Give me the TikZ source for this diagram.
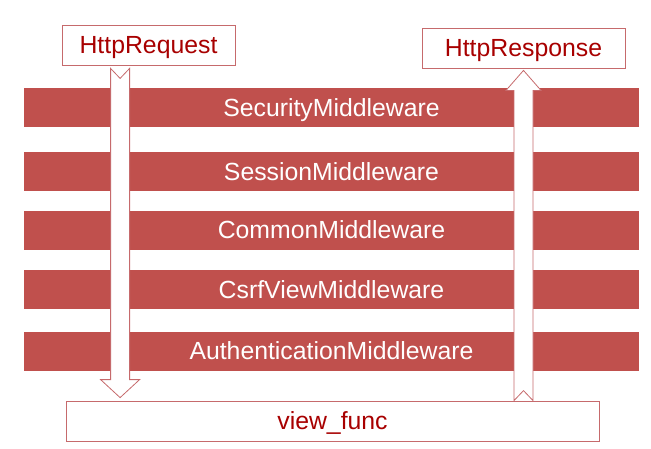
\documentclass[tikz,border=0pt]{standalone}
\usepackage{fontspec}
\setmainfont{Liberation Sans}
\usetikzlibrary{calc}
\definecolor{barred}{HTML}{C0504D}
\definecolor{txtred}{HTML}{A80000}
\definecolor{edgered}{HTML}{C66A6C}
\tikzset{
  bar/.style={rectangle, fill=barred, text=white, minimum width=615pt, minimum height=39pt, inner sep=0pt, text height=17.8pt, text depth=0pt, font=\fontsize{24.8}{30}\selectfont},
  box/.style={rectangle, draw=edgered, line width=0.8pt, fill=white, text=txtred, minimum height=40pt, inner sep=0pt, text height=17.8pt, text depth=0pt, font=\fontsize{24.8}{30}\selectfont},
  arrowline/.style={draw=edgered, line width=0.8pt, fill=white, line join=miter}
}
\begin{document}
\begin{tikzpicture}[x=1pt,y=-1pt]
\useasboundingbox (0,0) rectangle (651,448);
% bars
\node[bar] (sec) at (331.5,107.5) {SecurityMiddleware};
\node[bar] (ses) at (331.5,171.5) {SessionMiddleware};
\node[bar] (com) at (331.5,230) {CommonMiddleware};
\node[bar] (csrf) at (331.5,289.5) {CsrfViewMiddleware};
\node[bar] (auth) at (331.5,351) {AuthenticationMiddleware};
% boxes
\node[box, minimum width=173pt] (req) at (148.5,45) {HttpRequest};
\node[box, minimum width=203pt] (resp) at (523.5,48) {HttpResponse};
\node[box, minimum width=533pt] (view) at (332.5,421) {view\_func};
% request arrow (down)
\coordinate (lt) at ($(req.south west)+(58.5,3)$);
\coordinate (lb) at ($(view.north west)+(54.5,-3)$);
\draw[arrowline] ($(lt)+(-9.5,0)$) -- ($(lt)+(0,10)$) -- ($(lt)+(9.5,0)$)
  -- ($(lb)+(9.5,-18)$) -- ($(lb)+(19.5,-18)$) -- (lb) -- ($(lb)+(-19.5,-18)$)
  -- ($(lb)+(-9.5,-18)$) -- cycle;
% response arrow (up)
\coordinate (rt) at ($(resp.south)+(0,2)$);
\coordinate (rb) at (view.north -| resp.south);
\draw[arrowline] ($(rb)+(-9.5,0)$) -- ($(rb)+(0,-10)$) -- ($(rb)+(9.5,0)$)
  -- ($(rt)+(9.5,20)$) -- ($(rt)+(17.5,20)$) -- (rt) -- ($(rt)+(-17.5,20)$)
  -- ($(rt)+(-9.5,20)$) -- cycle;
\end{tikzpicture}
\end{document}
